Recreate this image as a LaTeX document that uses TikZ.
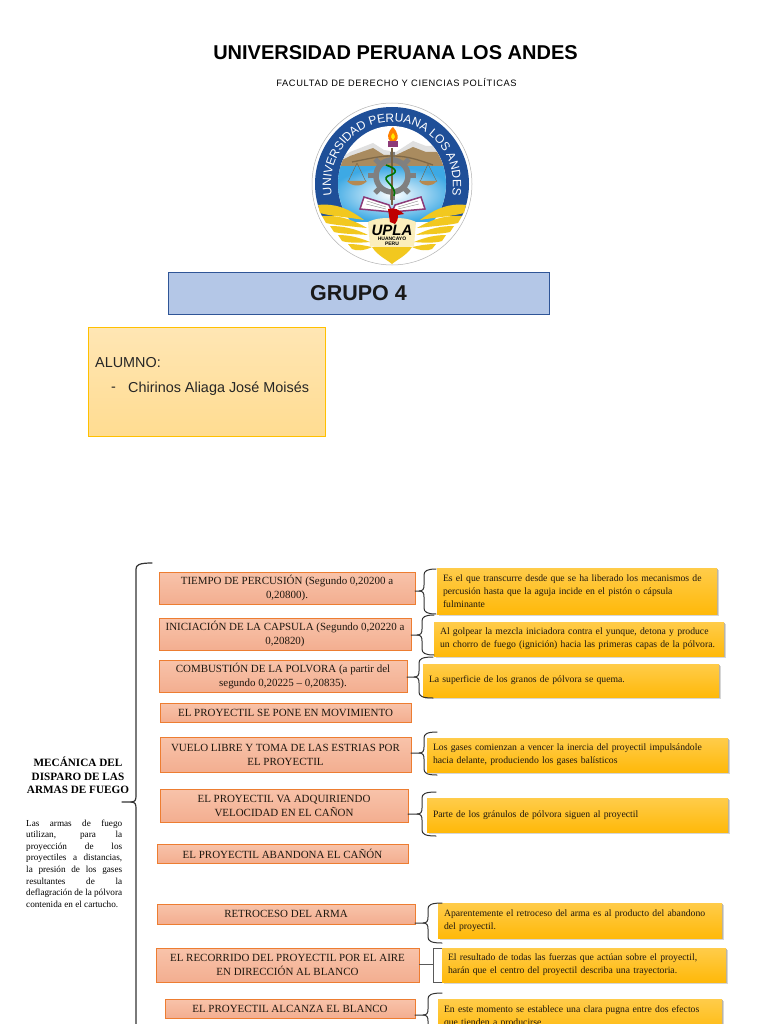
\documentclass[tikz,border=0pt]{standalone}
\usepackage{fontspec}
\setmainfont{Liberation Serif}
\newfontfamily\arialf{Liberation Sans}
\newfontfamily\arialsp[LetterSpace=7]{Liberation Sans}
\usetikzlibrary{shadows,decorations.text,calc}
\definecolor{lfillT}{HTML}{F8C3AA}
\definecolor{lfillB}{HTML}{F3AE90}
\definecolor{lline}{HTML}{ED7D31}
\definecolor{rfillT}{HTML}{FFCC4A}
\definecolor{rfillB}{HTML}{FFB90A}
\definecolor{inkc}{HTML}{1E170F}
\definecolor{bracec}{HTML}{333333}
\definecolor{ringblue}{HTML}{1F4F98}
\definecolor{lakeblue}{HTML}{3DA9E4}
\definecolor{earth}{HTML}{A98B5F}
\definecolor{wing}{HTML}{F2C81F}
\definecolor{bookp}{HTML}{8C3A78}
\tikzset{
  lbox/.style={draw=lline,line width=0.8pt,top color=lfillT,bottom color=lfillB,inner sep=0pt,outer sep=0pt,
    align=center,text=inkc,font=\fontsize{10.95}{14}\selectfont},
  rbox/.style={top color=rfillT,bottom color=rfillB,inner ysep=0pt,inner xsep=6pt,outer sep=0pt,
    align=left,text=inkc,font=\fontsize{9.7}{13}\selectfont,
    general shadow={fill=black!16,shadow xshift=1.8pt,shadow yshift=-2.4pt},
    general shadow={fill=black!30,shadow xshift=0.9pt,shadow yshift=-1.3pt}},
  brc/.style={draw=bracec,line width=1pt,line cap=round,line join=round},
  brcg/.style={draw=black!65,line width=0.9pt},
  feather/.style={fill=wing,draw=none},
}
\newcommand{\lbx}[6]{%
  \pgfmathsetlengthmacro\bw{(#4-#2)*1pt}\pgfmathsetlengthmacro\bh{(#5-#3)*1pt}%
  \node[lbox,minimum width=\bw,minimum height=\bh] (#1) at ({(#2+#4)/2},{(#3+#5)/2}) {#6};}
\newcommand{\rbx}[6]{%
  \pgfmathsetlengthmacro\bw{(#4-#2-12)*1pt}\pgfmathsetlengthmacro\bh{(#5-#3)*1pt}%
  \node[rbox,text width=\bw,minimum height=\bh] (#1) at ({(#2+#4)/2},{(#3+#5)/2}) {#6};}
% left node, ytip, xspine, ytop, ybot, xend
\newcommand{\curly}[6]{%
  \coordinate (tp) at (#1.east |- 0,#2);
  \draw[brc] (tp) -- ({#3-5},#2) .. controls ({#3-1},#2) and (#3,{#2-2}) .. (#3,{#2-6})
    -- (#3,{#4+6}) .. controls (#3,{#4+2}) and ({#3+3},#4) .. (#6,#4);
  \draw[brc] ({#3-5},#2) .. controls ({#3-1},#2) and (#3,{#2+2}) .. (#3,{#2+6})
    -- (#3,{#5-6}) .. controls (#3,{#5-2}) and ({#3+3},#5) .. (#6,#5);}
\begin{document}
\begin{tikzpicture}[x=1pt,y=-1pt]
\clip (0,0) rectangle (768,1024);
\fill[white] (0,0) rectangle (768,1024);

% headings
\node[font={\arialf\bfseries\fontsize{20}{24}\selectfont},text=black] (uni) at (395.5,53) {UNIVERSIDAD PERUANA LOS ANDES};
\node[font={\arialsp\fontsize{9.3}{11}\selectfont},text=black] (fac) at (396.5,82.5) {FACULTAD DE DERECHO Y CIENCIAS POLÍTICAS};

% logo
\fill[white,draw=black!30,line width=0.5pt] (392,184) ellipse [x radius=80,y radius=81];
\begin{scope}
  \clip (300,95) rectangle (485,216);
  \fill[ringblue] (392,184) ellipse [x radius=77,y radius=77];
\end{scope}
\fill[white] (392,184) ellipse [x radius=54,y radius=58];
\begin{scope}
  \clip (392,184) ellipse [x radius=54,y radius=58];
  \fill[black!12] (338,160) -- (350,152) -- (373,143) -- (384,150) -- (396,152) -- (413,141) -- (426,146) -- (437,146) -- (447,165) -- (338,170) -- cycle;
  \fill[earth] (338,162) -- (350,156) -- (373,148) -- (384,155) -- (396,155) -- (413,147) -- (426,152) -- (437,152) -- (447,167) -- (338,170) -- cycle;
  \shade[inner color=white,outer color=lakeblue] (330,167) rectangle (455,222);
\end{scope}
% gear
\foreach \a in {0,45,...,315}{
  \draw[black!50,line width=5pt] ($(392,176)+(\a:17)$) -- ($(392,176)+(\a:24)$);
}
\draw[black!50,line width=5.5pt] (392,176) circle [radius=16];
% balance
\draw[earth!75!black,line width=1.3pt] (352,162) .. controls (372,158) and (380,156) .. (392,156) .. controls (404,156) and (414,158) .. (433,165);
\draw[earth!70!black,line width=0.4pt] (357,163) -- (348,182) (357,163) -- (366,182) (428,164) -- (420,182) (428,164) -- (437,182);
\fill[earth!85!orange] (347,181) .. controls (352,187) and (362,187) .. (367,181) -- cycle;
\fill[earth!85!orange] (419,181) .. controls (424,187) and (432,187) .. (437,181) -- cycle;
% staff and snake
\draw[earth!70!black,line width=1.4pt] (392,148) -- (392,205);
\draw[green!45!black,line width=1.6pt] (386,165) .. controls (398,169) and (398,173) .. (388,176) .. controls (380,180) and (398,186) .. (394,196);
% torch
\fill[bookp] (388,141) rectangle (398,147);
\fill[orange] (393,127) .. controls (387,132) and (387,139) .. (390,141) -- (396,141) .. controls (399,139) and (398,132) .. (393,127);
\fill[yellow!90!orange] (393,133) .. controls (390,136) and (391,139) .. (393,140) .. controls (395,139) and (396,136) .. (393,133);
% book
\fill[white,draw=bookp,line width=1.5pt] (392,212) -- (360,209) -- (364,197) -- (389,205) -- cycle;
\fill[white,draw=bookp,line width=1.5pt] (392,212) -- (425,209) -- (421,197) -- (395,205) -- cycle;
\draw[black!45,line width=0.4pt] (367,201) -- (386,207) (366,204) -- (386,209) (418,201) -- (398,207) (419,204) -- (398,209);
% wings
\foreach \s in {1,-1}{
  \begin{scope}[shift={(392,0)},x={(\s*1pt,0pt)}]
    \fill[wing!30!white] (0,250) -- (-22,246) -- (-24,222) .. controls (-16,218) and (-8,218) .. (0,218) -- cycle;
    \fill[feather] (-74,205) .. controls (-58,203) and (-44,208) .. (-28,220) .. controls (-46,217) and (-62,216) .. (-72,213) -- cycle;
    \fill[feather] (-70,216) .. controls (-56,215) and (-42,218) .. (-25,228) .. controls (-44,226) and (-58,225) .. (-66,223) -- cycle;
    \fill[feather] (-62,226) .. controls (-50,226) and (-38,228) .. (-24,235) .. controls (-38,234) and (-50,234) .. (-58,232) -- cycle;
    \fill[feather] (-54,235) .. controls (-44,235) and (-34,237) .. (-22,242) .. controls (-34,243) and (-44,243) .. (-50,241) -- cycle;
    \fill[feather] (-44,244) .. controls (-36,244) and (-30,245) .. (-20,247) .. controls (-28,251) and (-36,251) .. (-40,249) -- cycle;
    \fill[feather] (0,264) .. controls (-6,259) and (-14,256) .. (-20,247) -- (0,247) -- cycle;
  \end{scope}
}
\fill[red!75!black] (388,209) .. controls (394,207) and (400,210) .. (404,214) -- (398,215) .. controls (398,219) and (397,222) .. (395,224) -- (390,222) -- cycle;
\node[font={\arialf\bfseries\itshape\fontsize{15}{15}\selectfont},text=black,inner sep=0pt] (upla) at (392,230) {UPLA};
\node[font={\arialf\bfseries\fontsize{5}{6}\selectfont},text=black,inner sep=0pt,align=center] (hyo) at (392,241) {HUANCAYO\\[-1pt]PERU};
\path[decorate,decoration={text along path,text align=center,
  text={|\arialf\fontsize{12}{13}\selectfont\color{white}|UNIVERSIDAD PERUANA LOS ANDES}}]
  (333.7,202.1) .. controls (321.7,162.3) and (351,122) .. (392,122) .. controls (433,122) and (462.3,162.3) .. (450.3,202.1);

% group box
\node[draw={rgb,255:red,47;green,85;blue,151},line width=0.7pt,minimum width=381pt,minimum height=42pt,inner sep=0pt,
  fill={rgb,255:red,180;green,199;blue,231},
  font={\arialf\bfseries\fontsize{21.5}{24}\selectfont},text=black!90] (grupo) at (358.5,293) {GRUPO 4};

% student box
\node[draw={rgb,255:red,255;green,192;blue,0},line width=0.8pt,
  top color={rgb,255:red,255;green,230;blue,180},bottom color={rgb,255:red,255;green,220;blue,145},
  minimum width=237pt,minimum height=109pt,inner sep=0pt] (alum) at (206.5,381.5) {};
\node[anchor=west,inner sep=0pt,font={\arialf\fontsize{14.4}{16}\selectfont},text=black!85] (alumt) at (95,362.5) {ALUMNO:};
\node[anchor=west,inner sep=0pt,font={\arialf\fontsize{14.4}{16}\selectfont},text=black!85] (dash) at (111,389) {-};
\node[anchor=west,inner sep=0pt,font={\arialf\fontsize{14.4}{16}\selectfont},text=black!85] (nombre) at (128,389) {Chirinos Aliaga José Moisés};

% left heading
\node[align=center,inner sep=0pt,font={\bfseries\fontsize{11.2}{13.7}\selectfont},text=black] (titulo) at (78,775.5)
  {MECÁNICA DEL\\DISPARO DE LAS\\ARMAS DE FUEGO};
\node[anchor=north west,inner sep=0pt,align=left,font={\fontsize{9.2}{11.6}\selectfont},text=black] (parr) at (26,819.5)
  {\makebox[96pt][s]{Las armas de fuego}\\
   \makebox[96pt][s]{utilizan, para la}\\
   \makebox[96pt][s]{proyección de los}\\
   \makebox[96pt][s]{proyectiles a distancias,}\\
   \makebox[96pt][s]{la presión de los gases}\\
   \makebox[96pt][s]{resultantes de la}\\
   \makebox[96pt][s]{deflagración de la pólvora}\\
   contenida en el cartucho.};

% main brace
\coordinate (bigtip) at (122,802);
\draw[brc,line width=1.2pt] (bigtip) -- (131,802) .. controls (135,802) and (136,800) .. (136,796) -- (136,569) .. controls (136,565) and (139,563) .. (152,563);
\draw[brc,line width=1.2pt] (131,802) .. controls (135,802) and (136,804) .. (136,808) -- (136,1030);

% left boxes
\lbx{l1}{159}{572}{415}{604}{TIEMPO DE PERCUSIÓN (Segundo 0,20200 a\\0,20800).}
\lbx{l2}{159}{618}{411}{650}{INICIACIÓN DE LA CAPSULA (Segundo 0,20220 a\\0,20820)}
\lbx{l3}{159}{660}{407}{692}{COMBUSTIÓN DE LA POLVORA (a partir del\\segundo 0,20225 – 0,20835).}
\lbx{l4}{160}{703}{411}{722}{EL PROYECTIL SE PONE EN MOVIMIENTO}
\lbx{l5}{160}{737}{411}{772}{VUELO LIBRE Y TOMA DE LAS ESTRIAS POR\\EL PROYECTIL}
\lbx{l6}{160}{789}{408}{822}{EL PROYECTIL VA ADQUIRIENDO\\VELOCIDAD EN EL CAÑON}
\lbx{l7}{157}{844}{408}{863}{EL PROYECTIL ABANDONA EL CAÑÓN}
\lbx{l8}{157}{904}{415}{924}{RETROCESO DEL ARMA}
\lbx{l9}{156}{948}{419}{982}{EL RECORRIDO DEL PROYECTIL POR EL AIRE\\EN DIRECCIÓN AL BLANCO}
\lbx{l10}{165}{999}{415}{1018}{EL PROYECTIL ALCANZA EL BLANCO}

% right boxes
\rbx{r1}{437}{568}{717}{614}{Es el que transcurre desde que se ha liberado los mecanismos de\\percusión hasta que la aguja incide en el pistón o cápsula\\fulminante}
\rbx{r2}{434}{622}{724}{656}{Al golpear la mezcla iniciadora contra el yunque, detona y produce\\un chorro de fuego (ignición) hacia las primeras capas de la pólvora.}
\rbx{r3}{423}{664}{719}{697}{La superficie de los granos de pólvora se quema.}
\rbx{r4}{427}{738}{728}{772}{Los gases comienzan a vencer la inercia del proyectil impulsándole\\hacia delante, produciendo los gases balísticos}
\rbx{r5}{427}{798}{728}{832}{Parte de los gránulos de pólvora siguen al proyectil}
\rbx{r6}{438}{903}{722}{938}{Aparentemente el retroceso del arma es al producto del abandono\\del proyectil.}
\rbx{r7}{442}{948}{726}{982}{El resultado de todas las fuerzas que actúan sobre el proyectil,\\harán que el centro del proyectil describa una trayectoria.}
\rbx{r8}{438}{999}{722}{1035}{En este momento se establece una clara pugna entre dos efectos\\que tienden a producirse.}

% connectors
\curly{l1}{591}{424}{569}{614}{436}
\curly{l2}{635}{422}{615}{655}{434}
\curly{l3}{677}{419}{657}{698}{433}
\curly{l5}{753}{424}{732}{775}{437}
\curly{l6}{814}{422}{792}{836}{436}
\curly{l8}{923}{428}{903}{943}{442}
\coordinate (t9) at (l9.east |- 0,964);
\draw[brcg] (t9) -- (433,964);
\draw[brcg] (442,948) -- (433,948) -- (433,982) -- (442,982);
\curly{l10}{1015}{428}{993}{1040}{442}
\end{tikzpicture}
\end{document}
